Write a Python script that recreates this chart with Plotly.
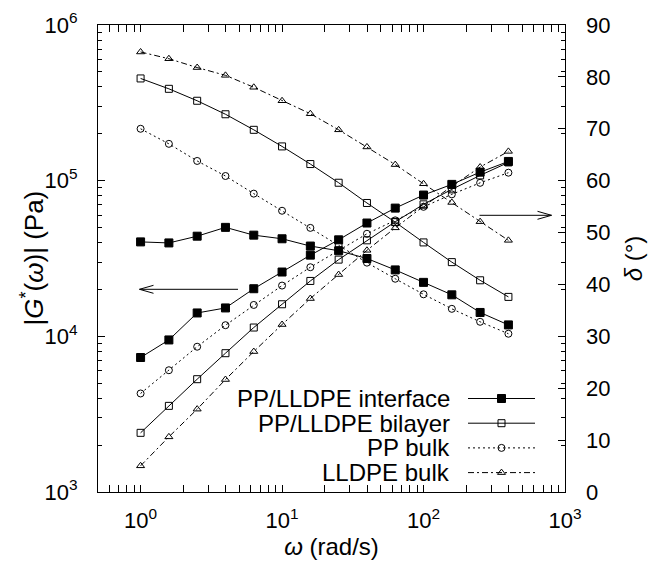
import plotly.graph_objects as go

# ---------------- data ----------------
omega = [1.0, 1.585, 2.512, 3.981, 6.310, 10.0, 15.85, 25.12, 39.81, 63.10, 100.0, 158.5, 251.2, 398.1]

g_interface = [7311, 9480, 14130, 15220, 20220, 25890, 33240, 41690, 53440, 66650, 80840, 94650, 113400, 132900]
delta_interface = [48.2, 48.0, 49.3, 51.0, 49.5, 48.8, 47.4, 46.5, 45.0, 42.8, 40.4, 38.0, 34.6, 32.2]

g_bilayer = [2399, 3575, 5305, 7793, 11390, 16070, 22690, 31110, 41380, 54430, 70450, 87940, 108100, 131000]
delta_bilayer = [79.7, 77.7, 75.4, 72.8, 69.8, 66.6, 63.2, 59.6, 55.7, 52.0, 48.1, 44.3, 40.8, 37.6]

g_pp = [4295, 6058, 8576, 11790, 15910, 21190, 27790, 35700, 45580, 55620, 67920, 81680, 96850, 112500]
delta_pp = [70.0, 67.1, 63.8, 60.9, 57.5, 54.2, 50.9, 47.6, 44.2, 41.1, 38.1, 35.3, 32.8, 30.5]

g_lldpe = [1473, 2261, 3406, 5280, 7985, 11910, 17490, 24940, 35700, 49770, 68420, 91900, 122300, 154200]
delta_lldpe = [84.8, 83.5, 81.8, 80.3, 78.0, 75.4, 72.9, 69.8, 66.5, 63.1, 59.4, 55.8, 52.1, 48.5]

series_names = ["PP/LLDPE interface", "PP/LLDPE bilayer", "PP bulk", "LLDPE bulk"]

x_tickvals = [1, 10, 100, 1000]
x_ticktext = ["10<sup>0</sup>", "10<sup>1</sup>", "10<sup>2</sup>", "10<sup>3</sup>"]
y_tickvals = [1e3, 1e4, 1e5, 1e6]
y_ticktext = ["10<sup>3</sup>", "10<sup>4</sup>", "10<sup>5</sup>", "10<sup>6</sup>"]
y2_tickvals = [0, 10, 20, 30, 40, 50, 60, 70, 80, 90]

# ---------------- styles ----------------
FONT = "Liberation Sans, Arial, sans-serif"
FS = 24      # key + titles
TFS = 22     # tick labels
styles = [
    dict(symbol="square", size=8, dash="solid"),
    dict(symbol="square-open", size=7, dash="solid"),
    dict(symbol="circle-open", size=7, dash="2px,3px"),
    dict(symbol="triangle-up-open", size=7, dash="6px,3px,2px,3px"),
]
g_data = [g_interface, g_bilayer, g_pp, g_lldpe]
d_data = [delta_interface, delta_bilayer, delta_pp, delta_lldpe]

fig = go.Figure()
for name, st, g, d in zip(series_names, styles, g_data, d_data):
    common = dict(
        mode="lines+markers",
        line=dict(color="black", width=1, dash=st["dash"]),
        marker=dict(symbol=st["symbol"], size=st["size"], color="black",
                    line=dict(color="black", width=1)),
        showlegend=False, name=name,
    )
    fig.add_trace(go.Scatter(x=omega, y=g, xaxis="x", yaxis="y", **common))
    fig.add_trace(go.Scatter(x=omega, y=d, xaxis="x", yaxis="y2", **common))

# ---------------- custom gnuplot-style key (pixel frame overlay) ----------------
L, R, T, B = 98, 565, 25, 492
key_text_right = 452
key_x0, key_x1 = 468, 535
key_y0, key_dy = 398.5, 24.7
for k, (name, st) in enumerate(zip(series_names, styles)):
    yk = key_y0 + k * key_dy
    fig.add_trace(go.Scatter(
        x=[key_x0, (key_x0 + key_x1) / 2, key_x1], y=[yk, yk, yk],
        xaxis="x3", yaxis="y3", mode="lines",
        line=dict(color="black", width=1, dash=st["dash"]),
        showlegend=False, hoverinfo="skip"))
    fig.add_trace(go.Scatter(
        x=[(key_x0 + key_x1) / 2], y=[yk],
        xaxis="x3", yaxis="y3", mode="markers",
        marker=dict(symbol=st["symbol"], size=st["size"], color="black",
                    line=dict(color="black", width=1)),
        showlegend=False, hoverinfo="skip"))
    fig.add_annotation(x=key_text_right, y=yk, xref="x3", yref="y3",
                       text=name, showarrow=False, xanchor="right", yanchor="middle",
                       font=dict(family=FONT, size=FS, color="black"))

# left axis title placed as a rotated annotation (paper coords)
fig.add_annotation(x=(33 - L) / (R - L), y=0.5, xref="paper", yref="paper",
                   text="|<i>G</i><sup>*</sup>(<i>ω</i>)| (Pa)", textangle=-90,
                   showarrow=False, xanchor="center", yanchor="middle",
                   font=dict(family=FONT, size=26, color="black"))

# arrows (open V heads)
arrows = [
    dict(x0=238, x1=139.5, y=289.3),
    dict(x0=479.5, x1=551.5, y=215.3),
]
shapes = []
for a in arrows:
    sgn = 1 if a["x1"] > a["x0"] else -1
    shapes.append(dict(type="line", xref="x3", yref="y3", x0=a["x0"], x1=a["x1"],
                       y0=a["y"], y1=a["y"], line=dict(color="black", width=1)))
    for s in (-1, 1):
        shapes.append(dict(type="line", xref="x3", yref="y3",
                           x0=a["x1"] - sgn * 14, y0=a["y"] + s * 4,
                           x1=a["x1"], y1=a["y"], line=dict(color="black", width=1)))

x_minor = [m * 10 ** e for e in range(-1, 3) for m in range(2, 10)]
y_minor = [m * 10 ** e for e in range(3, 6) for m in range(2, 10)]

axis_common = dict(showline=True, linecolor="black", linewidth=1, ticks="inside",
                   ticklen=7, tickcolor="black", tickwidth=1, showgrid=False,
                   zeroline=False, mirror="allticks", automargin=False,
                   tickfont=dict(family=FONT, size=TFS, color="black"))

fig.update_layout(
    width=657, height=568,
    margin=dict(l=L, r=657 - R, t=T, b=568 - B, pad=0, autoexpand=False),
    paper_bgcolor="white", plot_bgcolor="white",
    font=dict(family=FONT, size=FS, color="black"),
    showlegend=False,
    xaxis=dict(type="log", range=[-0.301, 3], tickmode="array", tickvals=x_tickvals,
               ticktext=x_ticktext, ticklabelstandoff=9,
               minor=dict(ticks="inside", ticklen=4, tickcolor="black", tickmode="array",
                          tickvals=x_minor, showgrid=False),
               title=dict(text="<i>ω</i> (rad/s)", standoff=3,
                          font=dict(family=FONT, size=FS)),
               **axis_common),
    yaxis=dict(type="log", range=[3, 6], tickmode="array", tickvals=y_tickvals,
               ticktext=y_ticktext, ticklabelstandoff=15,
               minor=dict(ticks="inside", ticklen=4, tickcolor="black", tickmode="array",
                          tickvals=y_minor, showgrid=False),
               **axis_common),
    yaxis2=dict(overlaying="y", side="right", range=[0, 90], tickmode="array",
                tickvals=y2_tickvals, ticks="inside", ticklen=7, tickcolor="black",
                showline=False, showgrid=False, zeroline=False, ticklabelstandoff=20,
                automargin=False,
                tickfont=dict(family=FONT, size=TFS, color="black"),
                title=dict(text="<i>δ</i> (°)", standoff=15, font=dict(family=FONT, size=FS))),
    xaxis3=dict(overlaying="x", range=[L, R], visible=False),
    yaxis3=dict(overlaying="y", range=[B, T], visible=False, anchor="x3"),
    shapes=shapes,
)

fig.write_html("out.html", config={"displayModeBar": False},
               post_script="document.body.style.margin='0';document.body.style.overflow='hidden';")
